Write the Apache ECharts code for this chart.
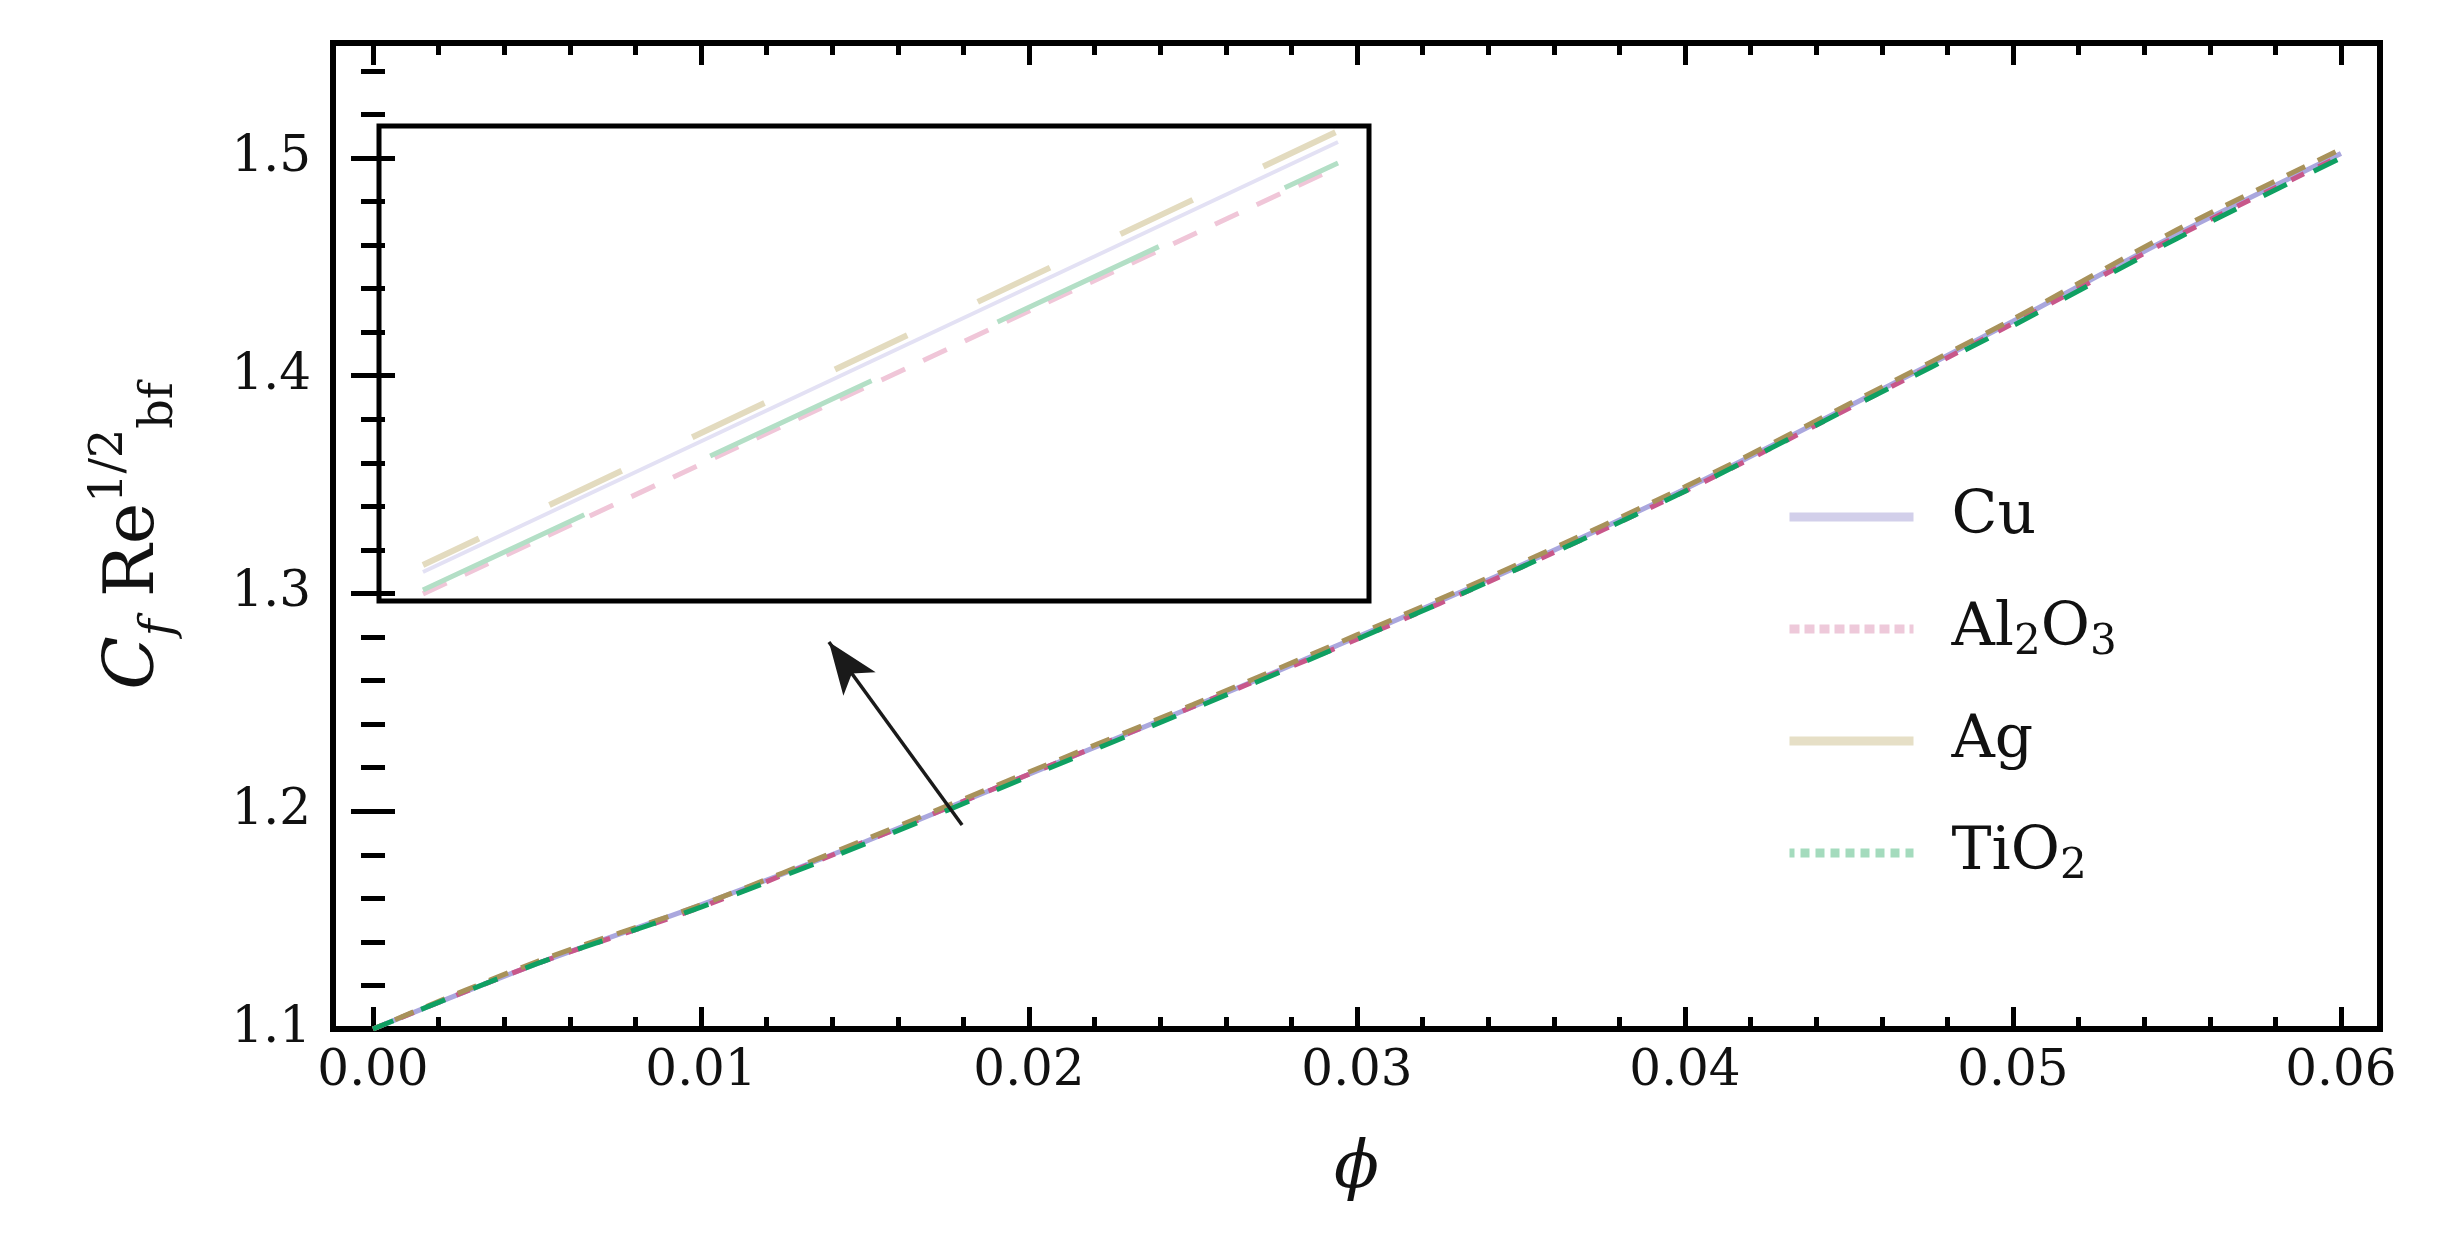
<!DOCTYPE html>
<html>
<head>
<meta charset="utf-8">
<script src="https://cdn.jsdelivr.net/npm/echarts@6/dist/echarts.min.js"></script>
<style>
  html, body { margin: 0; padding: 0; background: #fff; }
  #main { width: 2437px; height: 1248px; }
</style>
</head>
<body>
<div id="main"></div>
<script>
var phi = [0, 0.005, 0.01, 0.015, 0.02, 0.025, 0.03, 0.035, 0.04, 0.045, 0.05, 0.055, 0.06];
var cu    = [1.100, 1.130, 1.157, 1.186, 1.217, 1.248, 1.280, 1.313, 1.348, 1.386, 1.425, 1.465, 1.502];
var al2o3 = [1.100, 1.130, 1.156, 1.186, 1.217, 1.248, 1.279, 1.312, 1.347, 1.385, 1.424, 1.464, 1.501];
var ag    = [1.100, 1.131, 1.157, 1.187, 1.218, 1.249, 1.281, 1.314, 1.349, 1.387, 1.426, 1.467, 1.504];
var tio2  = [1.100, 1.130, 1.156, 1.185, 1.216, 1.247, 1.279, 1.312, 1.347, 1.385, 1.423, 1.463, 1.500];

// magnified view shown in the inset box (inset units 0..10)
var insetX     = [0.444, 9.687];
var cuInset    = [0.61, 9.663];
var al2o3Inset = [0.15, 9.14];
var agInset    = [0.758, 9.895];
var tio2Inset  = [0.232, 9.221];

// arrow from the curve to the inset
var arrowFrom = [0.01796, 1.1937];
var arrowTo   = [0.0139, 1.2777];

var xMajor = [0, 0.01, 0.02, 0.03, 0.04, 0.05, 0.06];
var xMinor = [0.002, 0.004, 0.006, 0.008, 0.012, 0.014, 0.016, 0.018, 0.022, 0.024, 0.026, 0.028,
              0.032, 0.034, 0.036, 0.038, 0.042, 0.044, 0.046, 0.048, 0.052, 0.054, 0.056, 0.058];
var yMajor = [1.1, 1.2, 1.3, 1.4, 1.5];
var yMinor = [1.12, 1.14, 1.16, 1.18, 1.22, 1.24, 1.26, 1.28, 1.32, 1.34, 1.36, 1.38,
              1.42, 1.44, 1.46, 1.48, 1.52, 1.54];

var xRange = [-0.00122, 0.06119];
var yRange = [1.1, 1.5528];

var FONT = 'DejaVu Serif';

function pairs(xs, ys) {
  return xs.map(function (x, i) { return [x, ys[i]]; });
}

function tickAxis(dim, pos, ticks, len, labels) {
  var a = {
    type: 'value',
    gridIndex: 0,
    position: pos,
    min: dim === 'x' ? xRange[0] : yRange[0],
    max: dim === 'x' ? xRange[1] : yRange[1],
    axisLine: { show: false },
    splitLine: { show: false },
    axisTick: { show: true, inside: true, length: len, customValues: ticks,
                lineStyle: { color: '#000', width: 5 } },
    axisLabel: { show: false }
  };
  if (labels) {
    a.axisLabel = {
      show: true,
      customValues: ticks,
      margin: dim === 'x' ? 18 : 22,
      fontFamily: FONT,
      fontSize: 50,
      color: '#111',
      formatter: function (v) { return dim === 'x' ? v.toFixed(2) : v.toFixed(1); }
    };
  }
  return a;
}

var xAxes = [
  tickAxis('x', 'bottom', xMajor, 22, true),
  tickAxis('x', 'top', xMajor, 22, false),
  tickAxis('x', 'bottom', xMinor, 12, false),
  tickAxis('x', 'top', xMinor, 12, false),
  { type: 'value', gridIndex: 1, min: 0, max: 10, show: false }
];
var yAxes = [
  tickAxis('y', 'left', yMajor, 22, true),
  tickAxis('y', 'right', yMajor, 22, false),
  tickAxis('y', 'left', yMinor, 12, false),
  tickAxis('y', 'right', yMinor, 12, false),
  { type: 'value', gridIndex: 1, min: 0, max: 10, show: false }
];
// minor-tick axes sit in their own copy of the main grid
xAxes[2].gridIndex = 2; xAxes[3].gridIndex = 2;
yAxes[2].gridIndex = 2; yAxes[3].gridIndex = 2;

xAxes[0].name = 'ϕ';
xAxes[0].nameLocation = 'middle';
xAxes[0].nameGap = 108;
xAxes[0].nameTextStyle = { fontFamily: FONT, fontStyle: 'italic', fontSize: 66, color: '#111' };

yAxes[0].name = '{c|C}{cs|f} Re{sup|1/2}{sub|bf}';
yAxes[0].nameLocation = 'middle';
yAxes[0].nameRotate = 90;
yAxes[0].nameGap = 150;
yAxes[0].nameTextStyle = {
  fontFamily: FONT, fontSize: 70, color: '#111', lineHeight: 96, padding: [0, 0, 0, 0],
  rich: {
    c:   { fontFamily: FONT, fontStyle: 'italic', fontSize: 70, lineHeight: 96 },
    cs:  { fontFamily: FONT, fontStyle: 'italic', fontSize: 46, lineHeight: 46, verticalAlign: 'bottom' },
    sup: { fontFamily: FONT, fontSize: 46, lineHeight: 46, verticalAlign: 'top' },
    sub: { fontFamily: FONT, fontSize: 46, lineHeight: 46, verticalAlign: 'bottom' }
  }
};

var mainGrid = { left: 333, right: 57, top: 43, bottom: 219 };

var legendText = {
  fontFamily: FONT, fontSize: 60, color: '#111', lineHeight: 70, padding: [0, 0, 0, 33],
  rich: {
    sub: { fontFamily: FONT, fontSize: 42, lineHeight: 42, verticalAlign: 'bottom' }
  }
};

var noMarker = { opacity: 0 };

var myChart = echarts.init(document.getElementById('main'));

myChart.setOption({
  animation: false,
  backgroundColor: '#fff',

  grid: [
    { left: mainGrid.left, right: mainGrid.right, top: mainGrid.top, bottom: mainGrid.bottom,
      show: true, borderColor: '#000', borderWidth: 6, backgroundColor: 'transparent' },
    { left: 379, top: 126, width: 990, height: 475,
      show: true, borderColor: '#000', borderWidth: 5, backgroundColor: '#fff' },
    { left: mainGrid.left, right: mainGrid.right, top: mainGrid.top, bottom: mainGrid.bottom }
  ],

  xAxis: xAxes,
  yAxis: yAxes,

  legend: {
    orient: 'vertical',
    left: 1780,
    top: 477,
    itemWidth: 124,
    itemHeight: 30,
    itemGap: 42,
    selectedMode: false,
    textStyle: legendText,
    formatter: function (name) {
      return { 'Cu': 'Cu', 'Al2O3': 'Al{sub|2}O{sub|3}', 'Ag': 'Ag', 'TiO2': 'TiO{sub|2}' }[name];
    },
    data: [
      { name: 'Cu',    itemStyle: noMarker, lineStyle: { color: '#d2cfea', width: 9, type: 'solid' } },
      { name: 'Al2O3', itemStyle: noMarker, lineStyle: { color: '#eec9da', width: 9, type: [10, 5] } },
      { name: 'Ag',    itemStyle: noMarker, lineStyle: { color: '#e6dfc6', width: 9, type: 'solid' } },
      { name: 'TiO2',  itemStyle: noMarker, lineStyle: { color: '#a4dbbd', width: 9, type: [9, 6] } }
    ]
  },

  series: [
    {
      name: 'Cu', type: 'line', xAxisIndex: 0, yAxisIndex: 0, smooth: 0.3, symbol: 'none',
      lineStyle: { color: '#aaa7de', width: 5, type: 'solid' },
      data: pairs(phi, cu),
      markLine: {
        silent: true,
        symbol: ['none', 'arrow'],
        symbolSize: [30, 52],
        label: { show: false },
        lineStyle: { color: '#1a1a1a', width: 3.5, type: 'solid' },
        data: [[{ coord: arrowFrom }, { coord: arrowTo }]]
      }
    },
    {
      name: 'Al2O3', type: 'line', xAxisIndex: 0, yAxisIndex: 0, smooth: 0.3, symbol: 'none',
      lineStyle: { color: '#c8578a', width: 5, type: [14, 16] },
      data: pairs(phi, al2o3)
    },
    {
      name: 'Ag', type: 'line', xAxisIndex: 0, yAxisIndex: 0, smooth: 0.3, symbol: 'none',
      lineStyle: { color: '#a8925a', width: 5, type: [20, 14], dashOffset: 10 },
      data: pairs(phi, ag)
    },
    {
      name: 'TiO2', type: 'line', xAxisIndex: 0, yAxisIndex: 0, smooth: 0.3, symbol: 'none',
      lineStyle: { color: '#0fa062', width: 5, type: [26, 30], dashOffset: 4 },
      data: pairs(phi, tio2)
    },

    // inset lines
    {
      name: 'Cu', type: 'line', xAxisIndex: 4, yAxisIndex: 4, symbol: 'none',
      lineStyle: { color: '#e3e1f4', width: 4 },
      data: pairs(insetX, cuInset)
    },
    {
      name: 'Al2O3', type: 'line', xAxisIndex: 4, yAxisIndex: 4, symbol: 'none',
      lineStyle: { color: '#f0c6d8', width: 5, type: [26, 20] },
      data: pairs(insetX, al2o3Inset)
    },
    {
      name: 'Ag', type: 'line', xAxisIndex: 4, yAxisIndex: 4, symbol: 'none',
      lineStyle: { color: '#e3dbbf', width: 6, type: [80, 78], dashOffset: 18 },
      data: pairs(insetX, agInset)
    },
    {
      name: 'TiO2', type: 'line', xAxisIndex: 4, yAxisIndex: 4, symbol: 'none',
      lineStyle: { color: '#b3dfc6', width: 5, type: [178, 139] },
      data: pairs(insetX, tio2Inset)
    }
  ]
});
</script>
</body>
</html>
